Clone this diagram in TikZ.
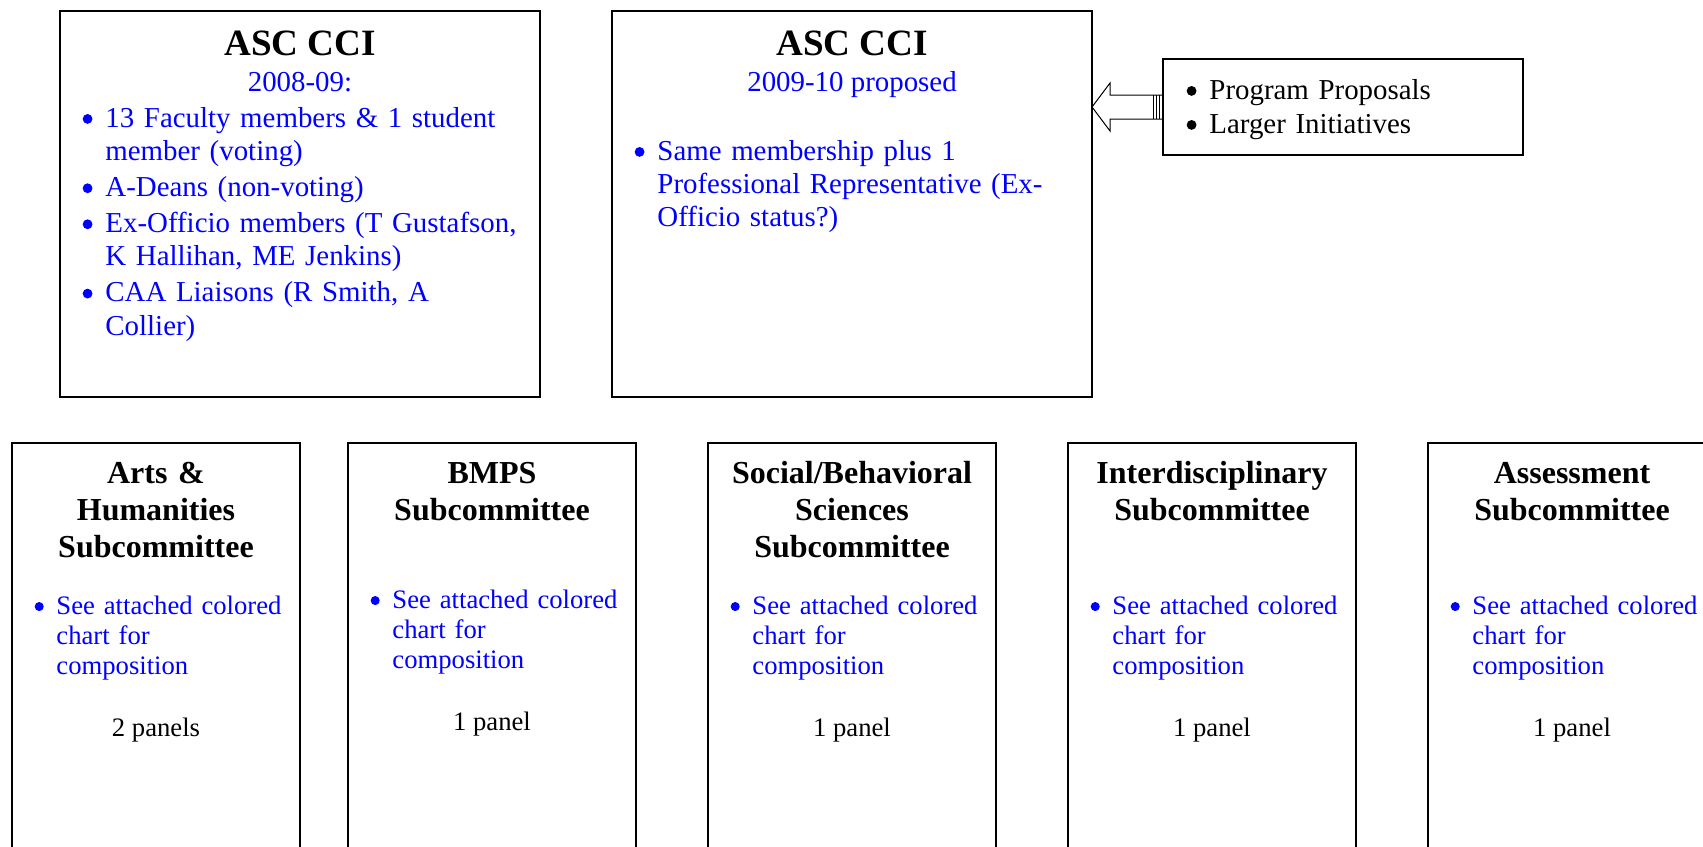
\documentclass[tikz,border=0pt]{standalone}
\usepackage{fontspec}
\setmainfont{Liberation Serif}
\usetikzlibrary{positioning, calc}
\tikzset{
x=0.45pt, y=-0.45pt, % one unit is one pixel of the chart, y runs downwards
box/.style={draw, line width=0.9pt, rectangle, inner sep=0pt, outer sep=0pt}, % sets the properties for every frame
bigbox/.style={box, minimum width=216pt, minimum height=173.7pt, anchor=north west}, % the two ASC CCI frames
subbox/.style={box, minimum width=129.6pt, minimum height=225pt, anchor=north west}, % the five subcommittees
heading/.style={font=\fontsize{16.7}{19}\selectfont\bfseries, anchor=base},
subhead/.style={font=\fontsize{14.4}{16.65}\selectfont\bfseries, text width=129.6pt, align=center, anchor=base, inner sep=0pt},
year/.style={font=\fontsize{13}{15}\selectfont, text=blue, anchor=base},
bullets/.style={text width=#1, anchor=base west, inner sep=0pt, text=blue, font=\fontsize{12}{13.7}\selectfont},
panel/.style={font=\fontsize{12}{14}\selectfont, anchor=base},
hollow/.style={line width=0.45pt}, % outline of the block arrow
}
% one bullet with hanging indent, the dot is drawn
\newcommand{\bitem}[2][11.25pt]{\hangindent=#1\hangafter=1\makebox[#1][l]{\hspace{1pt}\tikz[baseline=0pt]\fill (0pt,0.28em) circle (0.17em);}#2\par}

\begin{document}
\begin{tikzpicture}
\useasboundingbox (0,0) rectangle (1703,846);
\clip (0,0) rectangle (1703,846);

% upper row
\node[bigbox] (cci) at (60,11) {};
\node[bigbox, right=32.4pt of cci] (cciNew) {};
\node[box, minimum width=162pt, minimum height=43.2pt, anchor=north west] (prop) at (1163,59) {};

\node[heading] (cciTitle) at ($(cci.north)+(0,44)$) {ASC CCI};
\node[year] (cciYear) at ($(cci.north)+(0,80)$) {2008-09:};
\node[bullets=198pt, font=\fontsize{13}{15}\selectfont] (cciList) at ($(cci.north west)+(20,116)$) {%
\bitem{13 Faculty members \& 1 student\newline member (voting)}\vspace{1.2pt}
\bitem{A-Deans (non-voting)}\vspace{1.2pt}
\bitem{Ex-Officio members (T Gustafson,\newline K Hallihan, ME Jenkins)}\vspace{1.2pt}
\bitem{CAA Liaisons (R Smith, A\newline Collier)}};

\node[heading] (cciNewTitle) at ($(cciNew.north)+(0,44)$) {ASC CCI};
\node[year] (cciNewYear) at ($(cciNew.north)+(0,80)$) {2009-10 proposed};
\node[bullets=198pt, font=\fontsize{13}{15}\selectfont] (cciNewList) at ($(cciNew.north west)+(20,149)$) {%
\bitem{Same membership plus 1\newline Professional Representative (Ex-\newline Officio status?)}};

\node[bullets=148.5pt, text=black, font=\fontsize{13}{15.3}\selectfont] (propList) at ($(prop.north west)+(21,40)$) {%
\bitem{Program Proposals}
\bitem{Larger Initiatives}};

% block arrow from the proposals into the new committee
\draw[hollow] (prop.west) ++(0,-12) -- ++(-53,0) -- ++(0,-12) -- (cciNew.east |- prop.west)
      -- ++(18,24) -- ++(0,-12) -- ++(53,0);
\draw[hollow] ($(prop.west)+(-4,-12)$) -- ++(0,24)
      ($(prop.west)+(-7,-12)$) -- ++(0,24)
      ($(prop.west)+(-10,-12)$) -- ++(0,24);

% subcommittees
\node[subbox] (arts) at (12,443) {};
\node[subbox, right=21.6pt of arts] (bmps) {};
\node[subbox, right=32.4pt of bmps] (social) {};
\node[subbox, right=32.4pt of social] (inter) {};
\node[subbox, right=32.4pt of inter] (assess) {};

\node[subhead] (artsTitle) at ($(arts.north)+(0,40)$) {Arts \&\\Humanities\\Subcommittee};
\node[bullets=117pt] (artsList) at ($(arts.north west)+(20,171)$) {\bitem[10.8pt]{See attached colored\newline chart for\newline composition}};
\node[panel] (artsPanel) at ($(arts.north)+(0,293)$) {2 panels};

\node[subhead] (bmpsTitle) at ($(bmps.north)+(0,40)$) {BMPS\\Subcommittee};
\node[bullets=117pt] (bmpsList) at ($(bmps.north west)+(20,165)$) {\bitem[10.8pt]{See attached colored\newline chart for\newline composition}};
\node[panel] (bmpsPanel) at ($(bmps.north)+(0,287)$) {1 panel};

\node[subhead] (socialTitle) at ($(social.north)+(0,40)$) {Social/Behavioral\\Sciences\\Subcommittee};
\node[bullets=117pt] (socialList) at ($(social.north west)+(20,171)$) {\bitem[10.8pt]{See attached colored\newline chart for\newline composition}};
\node[panel] (socialPanel) at ($(social.north)+(0,293)$) {1 panel};

\node[subhead] (interTitle) at ($(inter.north)+(0,40)$) {Interdisciplinary\\Subcommittee};
\node[bullets=117pt] (interList) at ($(inter.north west)+(20,171)$) {\bitem[10.8pt]{See attached colored\newline chart for\newline composition}};
\node[panel] (interPanel) at ($(inter.north)+(0,293)$) {1 panel};

\node[subhead] (assessTitle) at ($(assess.north)+(0,40)$) {Assessment\\Subcommittee};
\node[bullets=117pt] (assessList) at ($(assess.north west)+(20,171)$) {\bitem[10.8pt]{See attached colored\newline chart for\newline composition}};
\node[panel] (assessPanel) at ($(assess.north)+(0,293)$) {1 panel};
\end{tikzpicture}
\end{document}
